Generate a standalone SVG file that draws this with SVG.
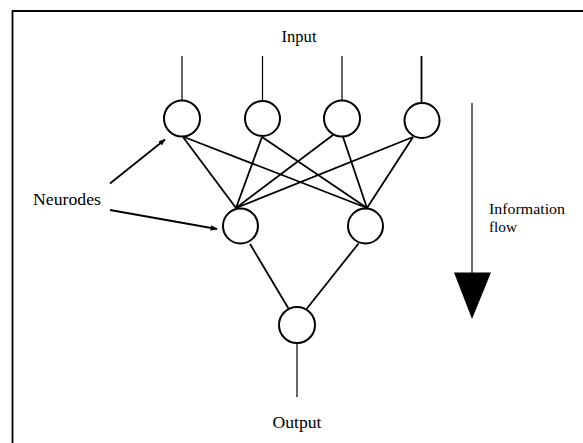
<svg xmlns="http://www.w3.org/2000/svg" width="583" height="443" viewBox="0 0 583 443">
<defs>
<style>
.node{fill:#fff;stroke:#000;stroke-width:2}
.ln{stroke:#000;stroke-width:1.8;fill:none}
.thin{stroke:#000;stroke-width:1.2;fill:none}
.t{font-family:"Liberation Serif","Times New Roman",serif;font-size:17px;fill:#000}
.s{font-size:15.5px}
</style>
<marker id="ah" viewBox="0 0 10 10" refX="9" refY="5" markerWidth="7" markerHeight="7" orient="auto" markerUnits="userSpaceOnUse">
<path d="M0,1 L10,5 L0,9 z" fill="#000"/>
</marker>
</defs>
<rect width="583" height="443" fill="#fff"/>
<g id="frame">
<path d="M12.5,443 V11 H583" class="ln" stroke-width="2"/>
</g>
<g id="connectors">
<line x1="182" y1="56" x2="182" y2="100" class="thin"/>
<line x1="262.5" y1="56" x2="262.5" y2="100" class="thin"/>
<line x1="342" y1="56" x2="342" y2="100" class="thin"/>
<line x1="421.5" y1="56" x2="421.5" y2="102.5" class="ln"/>
<line x1="183" y1="137" x2="236" y2="208" class="ln"/>
<line x1="184" y1="137" x2="367" y2="208" class="ln"/>
<line x1="262" y1="137" x2="236" y2="208" class="ln"/>
<line x1="262" y1="137" x2="367" y2="208" class="ln"/>
<line x1="333" y1="135" x2="236" y2="208" class="ln"/>
<line x1="343" y1="137" x2="367" y2="208" class="ln"/>
<line x1="413" y1="137" x2="236" y2="208" class="ln"/>
<line x1="413" y1="137" x2="367" y2="208" class="ln"/>
<line x1="250" y1="244" x2="288.5" y2="308.5" class="ln"/>
<line x1="358.5" y1="243.5" x2="306.5" y2="309" class="ln"/>
<line x1="297" y1="343" x2="297" y2="397" class="thin"/>
<line x1="110" y1="183.5" x2="165" y2="139.5" class="ln" stroke-width="1.5" marker-end="url(#ah)"/>
<line x1="110" y1="210" x2="217" y2="229" class="ln" stroke-width="1.5" marker-end="url(#ah)"/>
</g>
<g id="input-1"><circle cx="182" cy="118.5" r="18" class="node"/></g>
<g id="input-2"><circle cx="262.5" cy="118.5" r="17.5" class="node"/></g>
<g id="input-3"><circle cx="342" cy="118.5" r="18" class="node"/></g>
<g id="input-4"><circle cx="422" cy="120.5" r="17.5" class="node"/></g>
<g id="hidden-1"><circle cx="240.5" cy="226" r="17.5" class="node"/></g>
<g id="hidden-2"><circle cx="365.5" cy="226" r="17.5" class="node"/></g>
<g id="output-node"><circle cx="297" cy="325" r="18" class="node"/></g>
<g id="labels">
<text x="299" y="42" class="t" text-anchor="middle" textLength="35" lengthAdjust="spacingAndGlyphs">Input</text>
<text x="297" y="428" class="t" text-anchor="middle" textLength="49" lengthAdjust="spacingAndGlyphs">Output</text>
<text x="33" y="205" class="t" textLength="68" lengthAdjust="spacingAndGlyphs">Neurodes</text>
<text x="489" y="214" class="t s" textLength="76" lengthAdjust="spacingAndGlyphs">Information</text>
<text x="489" y="232" class="t s" textLength="28" lengthAdjust="spacingAndGlyphs">flow</text>
</g>
<g id="flow-arrow">
<line x1="472" y1="103" x2="472" y2="274" class="thin"/>
<path d="M454,272.5 L491,272.5 L472,319 z" fill="#000"/>
</g>
</svg>
